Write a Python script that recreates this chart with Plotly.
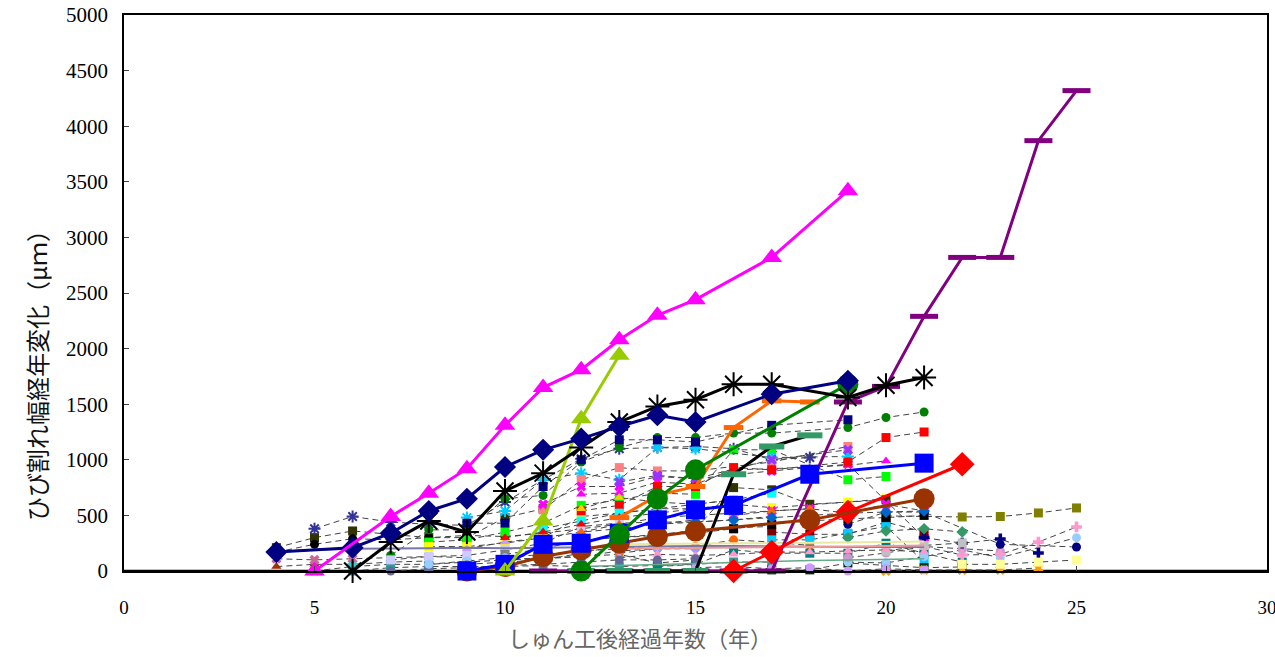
"""Crack width change over years after completion."""

import plotly.graph_objects as go

# ---- highlighted series (years after completion, crack width change in um) ----
MAGENTA_YEARS = [5, 7, 8, 9, 10, 11, 12, 13, 14, 15, 17, 19]
MAGENTA_VALUES = [0, 490, 700, 920, 1310, 1650, 1810, 2080, 2300, 2440, 2820, 3420]

NAVY_YEARS = [4, 6, 7, 8, 9, 10, 11, 12, 13, 14, 15, 17, 19]
NAVY_VALUES = [170, 210, 340, 540, 650, 935, 1090, 1190, 1300, 1400, 1340, 1590, 1710]

STAR_YEARS = [6, 7, 8, 9, 10, 11, 12, 13, 14, 15, 16, 17, 19, 20, 21]
STAR_VALUES = [0, 260, 450, 350, 720, 880, 1110, 1340, 1480, 1540, 1680, 1680, 1560, 1670, 1740]

LIME_YEARS = [10, 11, 12, 13]
LIME_VALUES = [0, 450, 1370, 1940]

BLUE_YEARS = [9, 10, 11, 12, 13, 14, 15, 16, 18, 21]
BLUE_VALUES = [0, 60, 240, 250, 340, 460, 550, 590, 870, 970]

BROWN_YEARS = [9, 10, 11, 12, 13, 14, 15, 18, 21]
BROWN_VALUES = [0, 40, 130, 190, 250, 310, 360, 460, 650]

GREEN_YEARS = [12, 13, 14, 15, 19]
GREEN_VALUES = [0, 330, 650, 910, 1680]

ORANGE_YEARS = [13, 14, 15, 16, 17, 18]
ORANGE_VALUES = [480, 680, 760, 1290, 1530, 1520]

DARK_YEARS = [12, 13, 14, 15, 16, 17, 18]
DARK_VALUES = [0, 0, 0, 0, 870, 1120, 1220]

PURPLE_YEARS = [11, 12, 13, 14, 15, 16, 17, 19, 20, 21, 22, 23, 24, 25]
PURPLE_VALUES = [0, 0, 0, 0, 0, 0, 0, 1520, 1660, 2290, 2820, 2820, 3870, 4320]

RED_YEARS = [16, 17, 19, 22]
RED_VALUES = [0, 170, 530, 960]

# ---- thin solid reference lines near the bottom ----
SLATE_YEARS = [4, 5, 6, 7, 8, 9, 10, 11, 12, 13, 14, 15, 16, 17, 18, 19, 20, 21]
SLATE_VALUES = [170, 190, 200, 200, 205, 210, 205, 210, 215, 220, 220, 225, 225, 220, 220, 215, 215, 215]
SALMON_YEARS = [13, 14, 15, 16, 17, 18, 19, 20, 21]
SALMON_VALUES = [200, 205, 210, 210, 215, 215, 220, 225, 230]
KHAKI_YEARS = [13, 14, 15, 16, 17, 18, 19, 20, 21]
KHAKI_VALUES = [240, 245, 250, 250, 250, 255, 255, 260, 265]
SEA_YEARS = [12, 13, 14, 15, 16, 17, 18, 19, 20, 21]
SEA_VALUES = [40, 50, 60, 70, 80, 90, 95, 100, 105, 110]

# ---- other monitored cracks (dashed lines) ----
BG_YEARS = [
    [4, 5, 6, 7, 8, 9, 10, 11],
    [5, 6, 7, 8, 9, 10, 11, 12, 13, 14, 15, 16, 17, 18],
    [4, 5, 6, 7, 8, 9, 10, 11, 12, 13],
    [4, 5, 6, 7, 8],
    [4, 5, 6, 7, 8, 9],
    [5, 6, 7, 8, 9, 10, 11, 12, 13, 14, 15],
    [6, 7, 8, 9, 10, 11, 12, 13, 14, 15, 16, 17],
    [7, 8, 9, 10, 11, 12, 13, 14, 15, 16, 17, 19, 20, 21],
    [8, 9, 10, 11, 12, 13, 14, 15, 16, 17, 19, 20],
    [8, 9, 10, 11, 12, 13, 14, 15, 16, 17, 19, 20],
    [7, 8, 9, 10, 11, 12, 13, 14, 15, 16, 17],
    [9, 10, 11, 12, 13, 14, 15, 17, 19],
    [9, 10, 11, 12, 13, 14, 15, 17, 19],
    [11, 12, 13, 14, 15, 17, 19],
    [11, 12, 13, 14, 15, 17, 19, 21],
    [12, 13, 14, 15, 16, 17, 19, 20],
    [12, 13, 14, 15, 16, 17, 19, 20, 21],
    [12, 13, 14, 15, 16],
    [14, 15, 16, 17, 18, 20],
    [14, 15, 16, 17],
    [13, 14, 15, 16, 17, 18],
    [17, 18, 19, 20, 21],
    [17, 18, 19, 20, 21],
    [14, 15, 16, 17, 18, 19, 20, 21, 22],
    [16, 17, 18, 19, 20, 21, 22],
    [19, 20, 21, 22, 23, 25],
    [19, 20, 21, 22, 23],
    [20, 22, 23, 24, 25],
    [21, 22, 23, 24],
    [21, 22, 23, 24, 25],
    [19, 20, 21, 23, 25],
    [20, 21, 22, 23, 24],
    [22, 23, 24, 25],
    [20, 21, 22],
    [19, 20, 21, 22],
    [13, 14, 15, 17, 19],
    [15, 16, 17, 18, 19, 20, 21],
    [10, 11, 12, 13, 14, 15],
    [13, 14, 15, 16, 17, 18, 19, 20, 21],
    [16, 17, 18, 19, 20, 21],
    [9, 10, 11, 12, 13],
    [7, 8, 9, 10, 11, 12, 13, 14, 15],
    [11, 12, 13, 14, 15, 16, 17],
    [9, 10, 11, 12, 13, 14, 15],
    [12, 13, 14, 15, 16, 17, 18],
    [10, 11, 12, 13, 14, 15, 16],
    [13, 14, 15, 16, 17, 18, 19, 20, 21],
    [14, 15, 16, 17, 18, 19, 20, 21],
    [8, 9, 10, 11, 12, 13, 14],
    [10, 11, 12, 13, 14, 15, 16],
]
BG_VALUES = [
    [210, 300, 360, 330, 300, 300, 480, 560],
    [380, 490, 440, 420, 410, 620, 820, 1010, 1100, 1110, 1120, 1100, 1000, 1020],
    [170, 240, 290, 280, 300, 320, 310, 340, 380, 420],
    [40, 60, 60, 80, 90],
    [110, 100, 110, 120, 130, 120],
    [0, 40, 60, 60, 80, 100, 120, 130, 150, 72, 99],
    [0, 30, 40, 40, 40, 50, 40, 40, 50, 60, 81, 80],
    [140, 370, 370, 650, 680, 980, 1110, 1200, 1200, 1240, 1240, 1290, 1380, 1430],
    [260, 280, 350, 430, 590, 640, 700, 690, 1090, 1090, 820, 850],
    [220, 220, 250, 300, 490, 520, 560, 560, 600, 570, 620, 650],
    [100, 130, 140, 190, 250, 400, 430, 440, 440, 460, 490],
    [480, 540, 820, 880, 820, 1110, 1100, 1020, 1030],
    [430, 430, 760, 1000, 1180, 1180, 1160, 1310, 1360],
    [550, 820, 930, 900, 900, 980, 1120],
    [600, 760, 760, 850, 830, 900, 960, 300],
    [690, 700, 800, 780, 910, 920, 950, 990],
    [540, 590, 760, 760, 930, 910, 980, 1200, 1250],
    [560, 660, 620, 600, 640],
    [300, 380, 750, 730, 600, 640],
    [330, 350, 390, 400],
    [160, 200, 220, 280, 260, 230],
    [350, 330, 330, 440, 350],
    [280, 280, 340, 400, 81],
    [40, 60, 190, 160, 160, 160, 250, 160, 80],
    [20, 10, 10, 72, 50, 30, 36],
    [80, 72, 130, 190, 120, 300],
    [120, 162, 220, 200, 180],
    [495, 486, 490, 522, 567],
    [300, 250, 288, 162],
    [220, 144, 150, 260, 396],
    [420, 530, 530, 240, 216],
    [0, 9, 10, 9, 27],
    [60, 60, 80, 99],
    [180, 230, 252],
    [300, 360, 380, 351],
    [800, 860, 830, 1000, 1090],
    [30, 40, 20, 30, 0, 20, 10],
    [100, 110, 130, 180, 200, 200],
    [120, 150, 140, 150, 170, 170, 180, 190, 170],
    [500, 540, 560, 520, 600, 540],
    [60, 80, 100, 160, 230],
    [0, 20, 30, 50, 60, 80, 100, 100, 110],
    [380, 450, 520, 560, 600, 640, 700],
    [200, 260, 300, 350, 380, 420, 460],
    [350, 420, 480, 500, 520, 540, 560],
    [150, 200, 280, 300, 320, 340, 380],
    [300, 330, 360, 380, 420, 450, 470, 480, 500],
    [420, 440, 460, 480, 500, 520, 530, 540],
    [60, 90, 120, 150, 180, 200, 230],
    [300, 350, 420, 480, 520, 560, 600],
]
BG_COLORS = [
    '#333300', '#333399', '#000000', '#993300', '#cc6699', '#33cccc', '#339999',
    '#008000', '#00ff00', '#ffff00', '#ccccff', '#00ccff', '#000080', '#ff8080',
    '#ff00ff', '#ff00ff', '#ff0000', '#ffcc00', '#333300', '#ffcc99', '#ff6600',
    '#800000', '#00ccff', '#008080', '#003300', '#99ccff', '#cc99cc', '#808000',
    '#000080', '#ff99cc', '#000080', '#ff9900', '#ffff99', '#c0c0c0', '#339966',
    '#9933ff', '#cc99ff', '#9999ff', '#ff99cc', '#ff00ff', '#99cc00', '#666699',
    '#00ffff', '#cc99ff', '#ff6600', '#808080', '#000000', '#0066cc', '#99ccff',
    '#ff0000',
]
BG_SYMBOLS = [
    'square', 'asterisk-open', 'circle', 'triangle-up', 'x', 'x', 'square',
    'circle', 'square', 'square', 'square', 'asterisk-open', 'square', 'square',
    'x', 'triangle-up', 'square', 'triangle-up', 'square', 'square', 'circle',
    'square', 'square', 'square', 'square', 'circle', 'circle', 'square',
    'cross', 'cross', 'circle', 'x', 'square', 'square', 'diamond',
    'x', 'circle', 'diamond', 'triangle-up', 'x', 'square', 'circle',
    'square', 'triangle-up', 'triangle-up', 'square', 'square', 'diamond', 'circle',
    'triangle-up',
]

X_TICKS = [0, 5, 10, 15, 20, 25, 30]
Y_TICKS = [0, 500, 1000, 1500, 2000, 2500, 3000, 3500, 4000, 4500, 5000]

X_TITLE = 'しゅん工後経過年数（年）'
Y_TITLE = 'ひび割れ幅経年変化（μｍ）'


def main_trace(x, y, color, symbol, size, mline=0, mcolor=None):
    return go.Scatter(
        x=x, y=y, mode='lines+markers', showlegend=False, cliponaxis=False,
        line=dict(color=color, width=3),
        marker=dict(symbol=symbol, size=size, color=mcolor or color,
                    line=dict(width=mline, color=mcolor or color)),
    )


fig = go.Figure()

for xs, ys, color, symbol in zip(BG_YEARS, BG_VALUES, BG_COLORS, BG_SYMBOLS):
    open_marker = symbol.endswith('-open')
    fig.add_trace(go.Scatter(
        x=xs, y=ys, mode='lines+markers', showlegend=False, cliponaxis=False,
        line=dict(color='#444444', width=1, dash='6px,4px'),
        marker=dict(symbol=symbol, size=10 if open_marker else 9, color=color,
                    line=dict(width=2 if open_marker else 0, color=color)),
    ))

for xs, ys, color, width in [
    (SEA_YEARS, SEA_VALUES, '#66aa88', 1.5),
    (SLATE_YEARS, SLATE_VALUES, '#7777aa', 2),
    (SALMON_YEARS, SALMON_VALUES, '#ee9999', 2),
    (KHAKI_YEARS, KHAKI_VALUES, '#e8e8a0', 2),
]:
    fig.add_trace(go.Scatter(x=xs, y=ys, mode='lines', showlegend=False,
                             line=dict(color=color, width=width)))

fig.add_trace(main_trace(PURPLE_YEARS, PURPLE_VALUES, '#800080', 'line-ew', 20, mline=5))
fig.add_trace(main_trace(DARK_YEARS, DARK_VALUES, '#000000', 'line-ew', 18,
                         mline=6, mcolor='#339966'))
fig.add_trace(main_trace(RED_YEARS, RED_VALUES, '#ff0000', 'diamond', 19))
fig.add_trace(main_trace(BROWN_YEARS, BROWN_VALUES, '#993300', 'circle', 21))
fig.add_trace(main_trace(BLUE_YEARS, BLUE_VALUES, '#0000ff', 'square', 19))
fig.add_trace(main_trace(ORANGE_YEARS, ORANGE_VALUES, '#ff6600', 'line-ew', 14, mline=5))
fig.add_trace(main_trace(GREEN_YEARS, GREEN_VALUES, '#008000', 'circle', 21))
fig.add_trace(main_trace(LIME_YEARS, LIME_VALUES, '#99cc00', 'triangle-up', 18))
fig.add_trace(main_trace(STAR_YEARS, STAR_VALUES, '#000000', 'asterisk-open', 20, mline=2))
fig.add_trace(main_trace(NAVY_YEARS, NAVY_VALUES, '#000080', 'diamond', 17))
fig.add_trace(main_trace(MAGENTA_YEARS, MAGENTA_VALUES, '#ff00ff', 'triangle-up', 18))

fig.update_layout(
    width=1275, height=657,
    margin=dict(l=124, r=8, t=15, b=86),
    paper_bgcolor='white', plot_bgcolor='white',
    font=dict(family='Liberation Serif', size=19, color='black'),
    xaxis=dict(
        range=[0, 30], tickvals=X_TICKS, ticks='inside', ticklen=5,
        showgrid=False, zeroline=False, showline=True, mirror=True,
        linecolor='black', linewidth=1.5, ticklabelstandoff=18,
        tickfont=dict(family='Liberation Serif', size=19),
        automargin=False, ticklabeloverflow='allow',
    ),
    yaxis=dict(
        range=[0, 5000], tickvals=Y_TICKS, ticks='inside', ticklen=5,
        showgrid=False, zeroline=False, showline=True, mirror=True,
        linecolor='black', linewidth=1.5, ticklabelstandoff=10,
        tickfont=dict(family='Liberation Serif', size=21),
        automargin=False, ticklabeloverflow='allow',
    ),
    annotations=[
        dict(text=X_TITLE, xref='paper', yref='paper', x=(640 - 124) / 1143, y=0,
             yshift=-66, showarrow=False, xanchor='center', yanchor='middle',
             font=dict(family='Noto Sans CJK JP', size=22, color='#666666')),
        dict(text=Y_TITLE, xref='paper', yref='paper', x=0, xshift=-88,
             y=(571 - 370) / 556, textangle=-90, showarrow=False,
             xanchor='center', yanchor='middle',
             font=dict(family='Noto Sans CJK JP', size=24, color='#111111')),
    ],
)

# x axis line at zero drawn heavier, like the original
fig.add_shape(type='line', xref='paper', yref='y', x0=0, x1=1, y0=0, y1=0,
              line=dict(color='black', width=2.5), layer='below')

# drop the browser's default body margin so the figure fills the window
fig.write_html('out.html', config={'displayModeBar': False},
               post_script="document.body.style.margin='0';")
